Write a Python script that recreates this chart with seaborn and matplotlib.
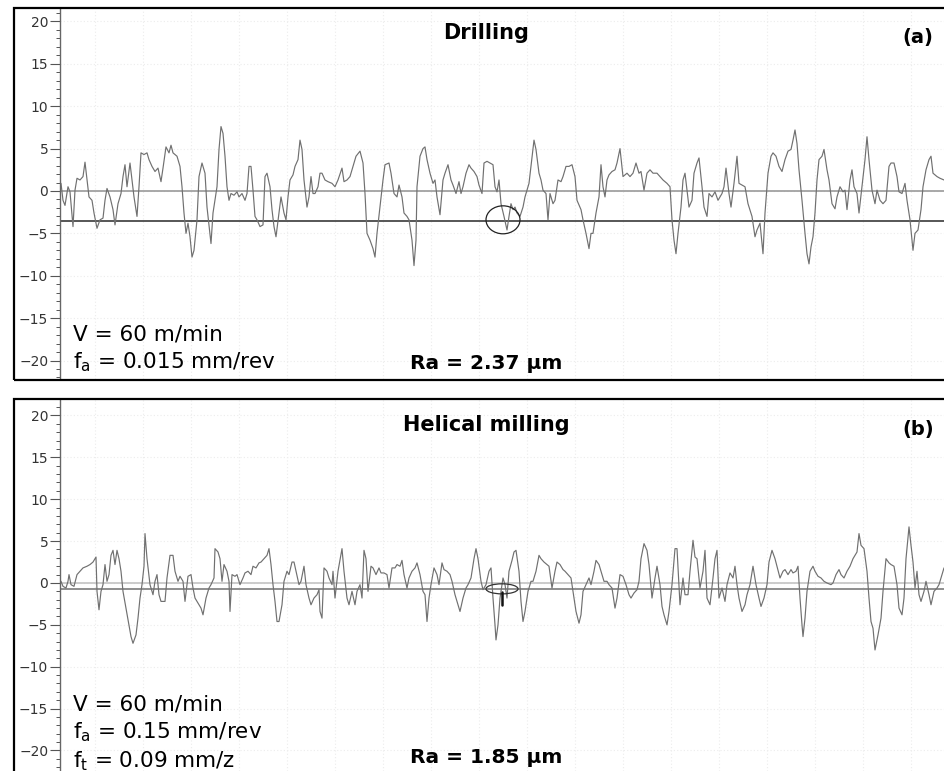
import matplotlib
matplotlib.use("Agg")
import matplotlib.pyplot as plt
from matplotlib.patches import Rectangle, Ellipse
from matplotlib.ticker import MultipleLocator
import seaborn as sns
import pandas as pd

# ---------------- profile data (position along trace, height in um) ----------------
drill_x = [1, 3, 5, 8, 10, 13, 15, 17, 20, 23, 25, 27, 29, 32, 34, 37, 40, 43, 45, 47,
           50, 53, 55, 58, 61, 63, 65, 67, 70, 72, 74, 77, 79, 81, 84, 87, 89, 92, 95, 98,
           101, 103, 106, 109, 111, 113, 117, 120, 122, 124, 126, 128, 130, 132, 134, 137, 139, 142, 145, 147,
           151, 153, 157, 159, 161, 163, 165, 167, 169, 171, 174, 177, 179, 182, 185, 187, 189, 191, 193, 195,
           197, 200, 203, 205, 207, 210, 212, 214, 216, 219, 221, 224, 226, 228, 230, 233, 235, 238, 240, 242,
           244, 247, 249, 251, 253, 255, 258, 260,
           262, 265, 268, 272, 275, 278, 282, 284, 287, 290, 293, 296, 300, 303, 305, 307, 310, 313, 315, 317,
           320, 323, 325, 329, 331, 334, 337, 339, 342, 344, 347, 349, 352, 354, 356, 357, 360, 363, 365, 367,
           370, 373, 375, 377, 380, 383, 385, 388, 391, 393, 396, 399, 401, 403, 406, 409, 411, 414, 417, 419,
           422, 424, 427, 430, 433, 435, 437, 439, 441, 444, 447, 449, 451, 453, 455, 457, 460, 463, 465, 469,
           471, 474, 476, 479, 481, 483, 486, 488, 490, 493, 495, 498, 501, 503, 506, 509, 512, 515, 517, 521,
           523, 526, 529, 531, 533, 536, 539, 541, 543, 545, 547, 549, 552, 555, 557,
           560, 563, 567, 570, 573, 576, 579, 581, 584, 587, 590, 593, 597, 600, 603, 607, 610, 612, 614, 616,
           618, 621, 623, 625, 627, 629, 632, 634, 637, 639, 642, 644, 647, 649, 652, 655, 658, 662, 664, 666,
           669, 671, 674, 677, 679, 682, 685, 688, 692, 695, 697, 700, 703, 705, 708, 711, 713, 716, 719, 722,
           725, 728, 731, 733, 735, 737, 739, 742, 745, 747, 749, 751, 753, 755, 757, 759, 762, 764, 767, 769,
           772, 775, 777, 780, 783, 785, 787, 790, 792, 794, 797, 799, 802, 805, 807, 809, 812, 815, 817, 820,
           823, 826, 829, 831, 834, 837, 839, 842, 845, 847, 850, 853, 855, 858, 861, 863, 866, 869, 871, 873,
           877, 880, 884]
drill_z = [0.9, -1.1, -1.7, 0.5, -0.1, -4.2, 0.1, 1.5, 1.3, 1.7, 3.4, 1.3, -0.7, -1.1, -2.6, -4.4, -3.4, -3.2, -1.1, 0.3,
           -0.7, -2.2, -4.0, -1.5, -0.3, 1.7, 3.1, 0.5, 3.3, 1.3, -0.7, -3.0, 0.5, 4.5, 4.3, 4.5, 3.7, 2.9, 2.3, 2.7,
           1.1, 2.7, 5.2, 4.5, 5.4, 4.5, 4.1, 2.9, 0.5, -2.6, -5.0, -3.8, -5.4, -7.8, -7.0, -3.4, 1.7, 3.3, 2.1, -1.9,
           -6.2, -2.6, 0.5, 4.9, 7.6, 6.8, 4.1, 0.5, -1.1, -0.3, -0.5, -0.1, -0.7, -0.3, -1.1, -0.3, 2.9, 2.9, 0.1, -3.0,
           -3.4, -4.2, -4.0, 1.7, 2.1, 0.5, -2.2, -4.2, -5.4, -2.6, -0.7, -2.6, -3.4, -0.7, 1.3, 1.9, 2.9, 3.7, 6.0, 4.9,
           1.3, -1.9, -0.7, 1.7, -0.3, -0.3, 0.5, 2.1,
           2.1, 1.3, 1.1, 0.9, 0.5, 1.3, 2.7, 1.1, 1.3, 1.7, 2.9, 4.1, 4.7, 3.3, -0.3, -5.0, -5.8, -6.8, -7.8, -5.0,
           -1.9, 1.3, 3.1, 3.3, 2.1, -0.3, -0.7, 0.7, -0.7, -2.6, -3.0, -3.4, -5.8, -8.8, -5.8, 0.5, 4.1, 5.0, 5.2, 3.7,
           2.1, 0.9, 1.3, -0.7, -2.8, 1.3, 2.1, 3.1, 1.3, 0.7, -0.3, 1.1, -0.3, 0.5, 2.1, 3.1, 2.7, 2.3, 1.7, 0.7,
           -0.3, 3.3, 3.5, 3.3, 3.1, 0.5, -0.1, 1.3, -1.5, -3.0, -4.6, -3.0, -1.5, -2.2, -1.9, -2.6, -3.0, -1.9, -0.7, 0.9,
           2.9, 6.0, 4.9, 2.1, 1.3, 0.1, -0.3, -3.4, -0.3, -1.5, -1.1, 1.3, 1.1, 1.7, 2.9, 2.9, 3.1, 1.7, -1.1, -2.2,
           -3.4, -5.0, -6.8, -5.0, -5.0, -2.6, -0.7, 3.1, 0.5, -0.7, 1.3, 1.9, 2.3, 2.5, 3.3,
           5.0, 1.7, 2.1, 1.7, 2.1, 3.3, 2.1, 2.3, 0.1, 2.1, 2.5, 2.1, 2.1, 1.7, 1.3, 0.9, 0.5, -3.4, -5.8, -7.4,
           -5.0, -1.9, 1.3, 2.1, 0.1, -1.9, -1.1, 2.1, 3.3, 3.9, 0.5, -1.9, -3.0, -0.3, -0.7, -0.1, -1.1, -0.3, 0.5, 2.7,
           -0.3, -1.9, 0.9, 4.1, 0.9, 0.7, 0.5, -1.5, -3.0, -5.4, -4.6, -3.8, -7.4, -2.6, 2.1, 4.1, 4.5, 4.1, 2.9, 2.3,
           3.7, 4.7, 4.9, 6.0, 7.2, 5.6, 2.5, -1.1, -5.0, -7.4, -8.6, -6.6, -5.4, -2.6, 1.3, 3.7, 4.1, 4.9, 2.5, 1.3,
           -1.5, -2.1, -0.7, 0.5, -0.1, 0.1, -2.2, 1.3, 2.5, 0.5, -0.3, -2.6, 0.5, 3.7, 6.4, 3.7, 0.1, -1.5, 0.1, -1.1,
           -1.5, -1.1, 2.9, 3.3, 3.3, 1.7, -0.1, -0.3, 0.9, -1.1, -3.4, -7.0, -5.0, -4.6, -2.2, 0.5, 2.5, 3.7, 4.1, 2.1,
           1.7, 1.5, 1.3]

helix_x = [1, 3, 6, 8, 9, 11, 14, 17, 20, 23, 27, 30, 33, 36, 37, 39, 41, 43, 45, 47,
           49, 51, 53, 55, 57, 59, 61, 63, 66, 69, 71, 73, 76, 78, 80, 82, 84, 85, 87, 90,
           93, 95, 97, 99, 101, 105, 107, 110, 113, 115, 118, 120, 123, 125, 128, 131, 133, 135, 138, 141,
           143, 146, 149, 151, 154, 155, 158, 160, 162, 164, 167, 169, 170, 172, 175, 177, 180, 183, 185, 188,
           191, 193, 196, 199, 201, 204, 207, 209, 211, 213, 215, 217, 219, 222, 224, 227, 229, 232, 234, 236,
           239, 241, 244, 246, 249, 251, 254, 257, 259,
           260, 262, 264, 267, 269, 272, 273, 275, 278, 282, 284, 287, 289, 292, 295, 297, 300, 302, 304, 306,
           308, 311, 313, 316, 319, 321, 324, 327, 329, 332, 335, 337, 340, 342, 344, 347, 349, 352, 355, 357,
           360, 363, 365, 367, 369, 371, 374, 377, 379, 382, 384, 387, 390, 392, 395, 398, 400, 403, 406, 408,
           411, 414, 416, 418, 421, 423, 426, 429, 431, 433, 435, 436, 438, 440, 443, 445, 447, 449, 452, 454,
           456, 459, 461, 463, 465, 468, 471, 473, 476, 479, 481, 484, 487, 489, 492, 495, 497, 500, 503, 505,
           508, 511, 513, 516, 519, 521, 523, 526, 529, 531, 534, 536, 539, 541, 544, 547, 549, 552, 555, 557,
           560, 563, 566, 569, 571, 574, 577, 579, 581, 584, 587, 589, 592, 595, 597, 600, 602, 604, 607, 609,
           612, 615, 617, 620, 623, 625, 628, 630, 633, 635, 637, 640, 643, 645, 647, 650, 653, 655, 657, 659,
           662, 665, 667, 670, 673, 675, 677, 679, 682, 685, 687, 690, 693, 696, 699, 701, 704, 707, 709, 712,
           715, 717, 720, 723, 725, 728, 731, 733, 736, 738, 740, 742, 743, 745, 747, 750, 753, 755, 758, 761,
           764, 767, 771, 773, 776, 779, 781, 784, 787, 790, 793, 797, 799, 801, 804, 807, 809, 811, 813, 815,
           818, 821, 823, 826, 829, 831, 834, 837, 839, 842, 844, 846, 849, 851, 853, 855, 857, 859, 861, 864,
           866, 869, 871, 874, 877, 879, 882, 884]
helix_z = [0.2, -0.4, -0.6, 0.2, 1.0, -0.2, -0.4, 1.0, 1.4, 1.8, 2.0, 2.2, 2.5, 3.1, -1.0, -3.2, -1.0, -0.2, 2.2, 0.2,
           1.0, 3.3, 3.9, 2.2, 3.9, 2.9, 1.4, -1.0, -3.0, -5.0, -6.4, -7.2, -6.2, -4.2, -1.8, -0.2, 2.0, 5.9, 2.9, -0.2,
           -1.4, 0.2, 1.0, -1.4, -2.2, -2.2, 0.6, 3.3, 3.3, 1.4, 0.2, 0.8, 0.2, -2.2, 0.8, 1.0, -0.6, -1.8, -2.4, -3.0,
           -3.8, -1.8, -0.6, -0.2, 0.6, 4.1, 3.7, 2.9, 0.2, 2.2, 1.4, 0.2, -3.4, 1.0, 0.8, 1.0, -0.2, 0.6, 1.2, 1.4,
           1.0, 2.0, 1.8, 2.4, 2.5, 2.9, 3.3, 4.1, 2.2, -0.2, -2.2, -4.6, -4.6, -2.6, 0.2, 1.4, 1.0, 2.5, 2.5, 1.4,
           -0.2, 0.2, 2.0, -0.2, -1.8, -2.6, -1.8, -1.4, -0.8,
           -3.4, -4.2, 1.8, 1.4, 0.6, -0.2, 1.4, -1.8, 1.4, 4.1, 1.4, -1.8, -2.6, -1.0, -2.6, -1.0, -0.2, -1.8, 3.9, 2.9,
           -1.0, 2.0, 1.8, 1.0, 1.8, 1.2, 1.2, 1.0, -0.6, 1.8, 1.8, 2.2, 2.0, 2.7, 1.0, -0.6, 0.6, 1.4, 1.8, 2.4,
           1.0, -1.0, -1.4, -4.6, -1.8, -0.2, 1.8, 1.0, -0.2, 2.4, 1.6, 1.4, 1.0, 0.2, -1.4, -2.6, -3.4, -1.8, -0.6, -0.2,
           0.6, 2.9, 4.1, 2.9, 0.2, -0.8, -0.2, 1.4, 1.8, -1.8, -5.0, -6.8, -5.0, -1.8, 0.6, -0.2, -1.8, 1.4, 2.7, 3.7,
           3.9, 1.4, -2.2, -4.6, -3.4, -1.0, 0.2, 0.2, 1.4, 3.3, 2.9, 2.5, 2.2, 2.0, -0.6, 1.4, 2.5, 2.2, 1.6, 1.4,
           1.0, 0.6, -1.0, -3.4, -4.8, -3.8, -1.0, -0.2, 0.6, -0.2, 1.4, 2.7, 2.2, 1.4, 0.2, 0.2, -0.2, -0.6, -3.0, -1.8,
           1.0, 0.8, -0.2, -1.4, -1.8, -1.2, -0.8, 0.2, 2.9, 4.7, 3.9, 2.2, -1.8, 0.6, 2.0, -0.2, -2.8, -3.8, -5.0, -3.4,
           -0.2, 4.1, 4.1, -2.6, 0.6, -1.4, -1.4, 1.4, 5.1, 3.1, 2.9, -0.6, 1.4, 3.9, -1.8, -2.6, 0.6, 2.9, 3.9, -1.8,
           -0.6, -2.2, -0.2, 1.2, 0.6, 2.0, -0.2, -1.8, -3.4, -2.6, -1.4, -0.2, 2.0, -0.2, -1.8, -2.8, -1.8, -0.2, 2.5, 3.9,
           2.9, 2.0, 0.6, 1.4, 1.6, 1.0, 1.6, 1.2, 1.4, 2.0, -1.8, -5.0, -6.4, -4.2, -1.0, 1.4, 2.0, 1.4, 0.8, 0.6,
           0.2, 0.0, -0.2, 0.0, 1.0, 1.6, 1.0, 0.6, 1.4, 2.0, 2.9, 3.7, 5.9, 4.5, 4.1, 1.4, -1.8, -4.6, -5.4, -8.0,
           -6.2, -4.2, -1.0, 2.9, 2.4, 2.2, 2.0, -0.2, -3.0, -3.8, -1.8, 2.9, 6.7, 4.5, 2.5, -0.6, 1.4, -1.4, -2.2, -1.0,
           0.2, -1.4, -2.6, -1.0, -0.6, -0.2, 1.0, 1.8]

# reference lines (um)
drill_zero, drill_mean = 0.0, -3.55
helix_zero, helix_mean = 0.0, -0.7

titles = ["Drilling", "Helical milling"]
tags = ["(a)", "(b)"]
ra_labels = ["Ra = 2.37 \u00b5m", "Ra = 1.85 \u00b5m"]
cond_a = ["V = 60 m/min", "f$_a$ = 0.015 mm/rev"]
cond_b = ["V = 60 m/min", "f$_a$ = 0.15 mm/rev", "f$_t$ = 0.09 mm/z"]
y_ticks = [-20, -15, -10, -5, 0, 5, 10, 15, 20]

# ---------------- styling ----------------
sns.set_style("white")
plt.rcParams["font.family"] = ["DejaVu Sans"]
plt.rcParams["mathtext.default"] = "regular"

W, H = 944, 771
fig = plt.figure(figsize=(W / 100, H / 100), dpi=100)


def box(x0, y0, x1, y1):
    return [x0 / W, 1 - y1 / H, (x1 - x0) / W, (y1 - y0) / H]


def fx(px):
    return px / W


def fy(py):
    return 1 - py / H


ax_a = fig.add_axes(box(60, 9, 944, 379))
ax_b = fig.add_axes(box(60, 400, 944, 771))

df_a = pd.DataFrame({"pos": drill_x, "z": drill_z})
df_b = pd.DataFrame({"pos": helix_x, "z": helix_z})

panels = [
    (ax_a, df_a, (-22.18, 21.47), drill_zero, drill_mean, "#9a9a9a", "#3a3a3a"),
    (ax_b, df_b, (-22.45, 21.85), helix_zero, helix_mean, "#c4c4c4", "#7c7c7c"),
]

for ax, df, ylim, z0, zm, c0, cm in panels:
    ax.set_xlim(0, 884)
    ax.set_ylim(*ylim)
    ax.set_facecolor("white")
    # faint dotted grid
    for gx in range(35, 884, 48):
        ax.axvline(gx, color="#ececec", lw=0.8, ls=(0, (1, 2)), zorder=0)
    for gy in y_ticks:
        ax.axhline(gy, color="#ececec", lw=0.8, ls=(0, (1, 2)), zorder=0)
    ax.axhline(z0, color=c0, lw=1.2, zorder=1)
    ax.axhline(zm, color=cm, lw=1.2, zorder=1)
    sns.lineplot(data=df, x="pos", y="z", ax=ax, color="#707070", lw=0.85,
                 sort=False, estimator=None, zorder=2)
    ax.set_xlabel("")
    ax.set_ylabel("")
    ax.set_xticks([])
    ax.set_yticks(y_ticks)
    ax.yaxis.set_minor_locator(MultipleLocator(1))
    ax.tick_params(axis="y", which="major", length=7, width=0.8, color="#555555",
                   labelsize=10, labelcolor="#333333", pad=1.5, direction="out", left=True)
    ax.tick_params(axis="y", which="minor", length=3, width=0.7, color="#555555",
                   direction="out", left=True)
    for side in ["top", "right", "bottom"]:
        ax.spines[side].set_visible(False)
    ax.spines["left"].set_color("#666666")
    ax.spines["left"].set_linewidth(1.0)

# marked valley and its lower limit
ax_a.add_patch(Ellipse((443, -3.4), width=34, height=3.3, fill=False,
                       ec="#222222", lw=0.9, zorder=3))
ax_b.add_patch(Ellipse((442, -0.7), width=32, height=1.2, fill=False,
                       ec="#333333", lw=0.9, zorder=3))
ax_b.plot([442, 442], [-1.1, -2.6], color="#111111", lw=1.8, zorder=3)

# outer frames of both panels
for y0, y1 in [(8, 380), (399, 790)]:
    fig.add_artist(Rectangle((fx(14), fy(y1)), fx(960 - 14), (y1 - y0) / H,
                             transform=fig.transFigure, fill=False,
                             ec="black", lw=1.6, zorder=5))

# titles, tags and process parameters
bold = dict(fontweight="bold", color="black")
fig.text(fx(486), fy(39), titles[0], ha="center", va="baseline", fontsize=15, **bold)
fig.text(fx(486), fy(431), titles[1], ha="center", va="baseline", fontsize=15, **bold)
fig.text(fx(918), fy(43), tags[0], ha="center", va="baseline", fontsize=14, **bold)
fig.text(fx(918), fy(435), tags[1], ha="center", va="baseline", fontsize=14, **bold)
fig.text(fx(486), fy(369), ra_labels[0], ha="center", va="baseline", fontsize=14.5, **bold)
fig.text(fx(486), fy(763), ra_labels[1], ha="center", va="baseline", fontsize=14.5, **bold)

for txt, base in zip(cond_a, [341, 368]):
    fig.text(fx(73), fy(base), txt, ha="left", va="baseline", fontsize=15.5, color="black")
for txt, base in zip(cond_b, [710, 738, 767]):
    fig.text(fx(73), fy(base), txt, ha="left", va="baseline", fontsize=15.5, color="black")

fig.savefig("out.png", dpi=100, facecolor="white")
